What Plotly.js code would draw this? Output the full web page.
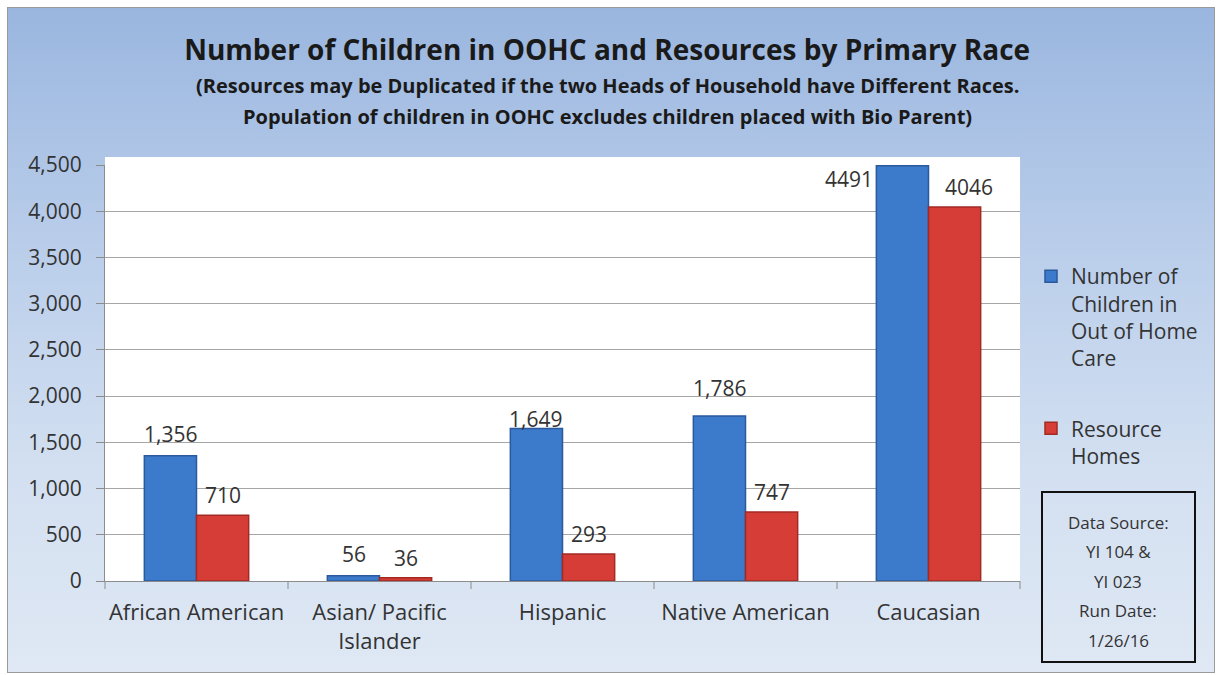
<!DOCTYPE html>
<html>
<head>
<meta charset="utf-8">
<script src="https://cdn.plot.ly/plotly-3.0.1.min.js"></script>
<style>
  html, body { margin: 0; padding: 0; background: #ffffff; }
  #frame { position: absolute; left: 7px; top: 7px; width: 1206px; height: 664px;
           border: 1px solid #9a9a9a;
           background: linear-gradient(to bottom, #9ab6df 0%, #b9cdea 35%, #d3e0f1 70%, #dfe8f4 100%); }
  #chart { position: absolute; left: 0; top: 0; width: 1218px; height: 675px; }
</style>
</head>
<body>
<div id="frame"></div>
<div id="chart"></div>
<script>
const categories = ["African American", "Asian/ Pacific<br>Islander", "Hispanic", "Native American", "Caucasian"];
const childrenInCare = [1356, 56, 1649, 1786, 4491];
const resourceHomes = [710, 36, 293, 747, 4046];
const childrenLabels = ["1,356", "56", "1,649", "1,786", "4491"];
const homesLabels = ["710", "36", "293", "747", "4046"];
const yTickVals = [0, 500, 1000, 1500, 2000, 2500, 3000, 3500, 4000, 4500];
const yTickText = ["0", "500", "1,000", "1,500", "2,000", "2,500", "3,000", "3,500", "4,000", "4,500"];
const seriesNames = ["Number of<br>Children in<br>Out of Home<br>Care", "Resource<br>Homes"];
const titleText = "Number of Children in OOHC and Resources by Primary Race";
const subtitleLines = [
  "(Resources may be Duplicated if the two Heads of Household have Different Races.",
  "Population of children in OOHC excludes children placed with Bio Parent)"
];
const sourceLines = ["Data Source:", "YI 104 &amp;", "YI 023", "Run Date:", "1/26/16"];

const BODY = "'Open Sans', 'Noto Sans', sans-serif";
const TXT = "#333333";
const ML = 105, MR = 198, MT = 165, MB = 94;
const PW = 1218 - ML - MR, PH = 675 - MT - MB;
const pxToPaperX = p => (p - ML) / PW;
const pxToPaperY = p => (675 - MB - p) / PH;

const traces = [
  { type: "bar", x: categories, y: childrenInCare, name: seriesNames[0], legendgroup: "a",
    marker: { color: "#3c7acb", line: { color: "#2a5a9c", width: 1.5 } },
    hoverinfo: "y" },
  { type: "bar", x: categories, y: resourceHomes, name: seriesNames[1], legendgroup: "b",
    marker: { color: "#d63d36", line: { color: "#a22a25", width: 1.5 } },
    hoverinfo: "y" }
];

// label placement (style only)
function blueLabelStyle(i) {
  if (i === categories.length - 1) return { xshift: -80, yshift: -13, yanchor: "middle" };
  if (i === 2) return { xshift: -27, yshift: -6, yanchor: "bottom" };
  if (i === 3) return { xshift: -26, yshift: 12, yanchor: "bottom" };
  return { xshift: -26, yshift: 6, yanchor: "bottom" };
}
function redLabelStyle(i) {
  if (i === categories.length - 1) return { xshift: 40, yshift: 4, yanchor: "bottom" };
  return { xshift: 26, yshift: 4, yanchor: "bottom" };
}

const annotations = [];
categories.forEach((c, i) => {
  annotations.push(Object.assign({ x: c, y: childrenInCare[i], text: childrenLabels[i], showarrow: false,
    xref: "x", yref: "y", font: { family: BODY, size: 21, color: TXT } }, blueLabelStyle(i)));
  annotations.push(Object.assign({ x: c, y: resourceHomes[i], text: homesLabels[i], showarrow: false,
    xref: "x", yref: "y", font: { family: BODY, size: 21, color: TXT } }, redLabelStyle(i)));
});
subtitleLines.forEach((t, k) => {
  annotations.push({ xref: "paper", yref: "paper", x: pxToPaperX(607), y: pxToPaperY(85 + 31 * k),
    xanchor: "center", yanchor: "middle", showarrow: false, text: "<b>" + t + "</b>",
    font: { family: BODY, size: 20, color: "#1a1a1a" } });
});
sourceLines.forEach((t, k) => {
  annotations.push({ xref: "paper", yref: "paper", x: pxToPaperX(1118), y: pxToPaperY(522 + 29.5 * k),
    xanchor: "center", yanchor: "middle", showarrow: false, text: t,
    font: { family: BODY, size: 17, color: TXT } });
});

const tickShapes = [0, 0.2, 0.4, 0.6, 0.8, 1].map(p => ({
  type: "line", xref: "paper", yref: "paper", x0: p, x1: p, y0: 0, y1: -8 / PH,
  line: { color: "#8c8c8c", width: 1 } }));

const layout = {
  width: 1218, height: 675,
  paper_bgcolor: "rgba(0,0,0,0)",
  plot_bgcolor: "#ffffff",
  margin: { l: ML, r: MR, t: MT, b: MB },
  title: {
    text: "<b>" + titleText + "</b>",
    x: 0.4985, xref: "container", xanchor: "center",
    y: 1 - 50 / 675, yref: "container", yanchor: "middle",
    font: { family: BODY, size: 28, color: "#1a1a1a" }
  },
  barmode: "group",
  bargap: 0.43,
  bargroupgap: 0,
  xaxis: {
    type: "category",
    tickfont: { family: BODY, size: 22, color: TXT },
    showline: true, linecolor: "#8c8c8c", linewidth: 1,
    ticks: "", showgrid: false, ticklabelstandoff: 12
  },
  yaxis: {
    range: [0, 4500],
    tickvals: yTickVals, ticktext: yTickText,
    tickfont: { family: BODY, size: 21, color: TXT },
    showline: true, linecolor: "#8c8c8c", linewidth: 1,
    ticks: "outside", ticklen: 8, tickcolor: "#8c8c8c",
    gridcolor: "#a6a6a6", gridwidth: 1, zeroline: false,
    ticklabelstandoff: 10
  },
  showlegend: true,
  legend: {
    x: pxToPaperX(1031), y: pxToPaperY(256), xanchor: "left", yanchor: "top",
    bgcolor: "rgba(0,0,0,0)", valign: "top",
    font: { family: BODY, size: 21, color: TXT },
    itemwidth: 30, tracegroupgap: 40, traceorder: "grouped"
  },
  annotations: annotations,
  shapes: [
    { type: "rect", xref: "paper", yref: "paper", x0: 0, x1: 1, y0: 1, y1: 1 + 8 / PH,
      fillcolor: "#ffffff", line: { width: 0 }, layer: "below" },
    ...tickShapes,
    { type: "rect", xref: "paper", yref: "paper",
      x0: pxToPaperX(1042), x1: pxToPaperX(1195), y0: pxToPaperY(662), y1: pxToPaperY(492),
      fillcolor: "rgba(0,0,0,0)", line: { color: "#111111", width: 2 } }
  ]
};

Plotly.newPlot("chart", traces, layout, { displayModeBar: false, staticPlot: true });
</script>
</body>
</html>
